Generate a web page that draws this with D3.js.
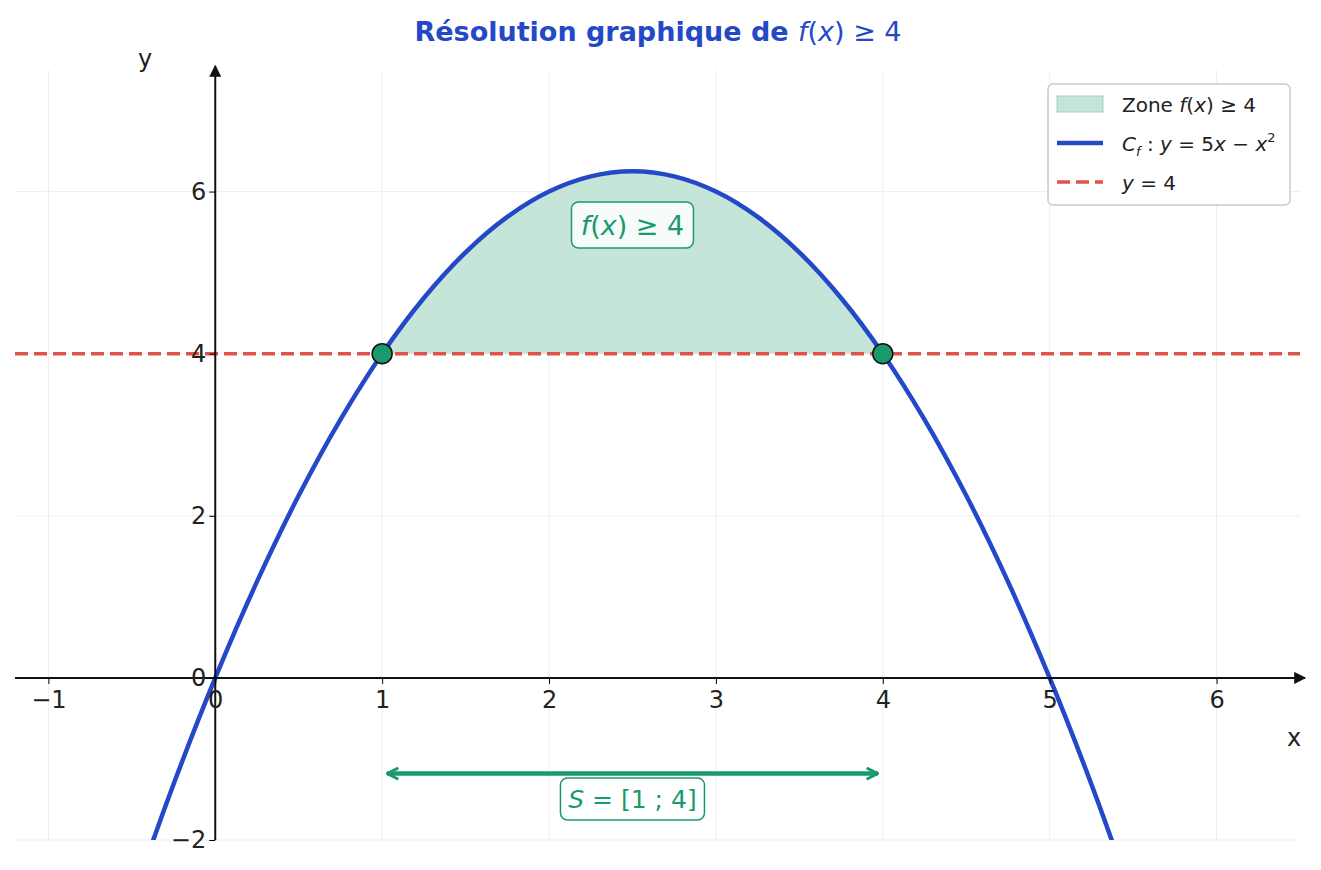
<!DOCTYPE html><html><head><meta charset="utf-8">
<script src="https://cdn.jsdelivr.net/npm/d3@7"></script>
<style>body{margin:0;background:#fff}text{font-family:"DejaVu Sans",sans-serif}</style></head><body>
<svg id="c" width="1321" height="870"></svg>
<script>
const curveX=[-0.5,-0.25,0,0.25,0.5,0.75,1,1.25,1.5,1.75,2,2.25,2.5,2.75,3,3.25,3.5,3.75,4,4.25,4.5,4.75,5,5.25,5.5];
const curveY=[-2.75,-1.3125,0,1.1875,2.25,3.1875,4,4.6875,5.25,5.6875,6,6.1875,6.25,6.1875,6,5.6875,5.25,4.6875,4,3.1875,2.25,1.1875,0,-1.3125,-2.75];
const xTicks=[-1,0,1,2,3,4,5,6];
const yTicks=[-2,0,2,4,6];
const threshold=4;
const solution=[1,4];
const blue="#2349c9",red="#e0534a",green="#1a9a6c";
const svg=d3.select("#c");
const x=d3.scaleLinear([-1.2,6.5],[15,1300]);
const y=d3.scaleLinear([-2,7.5],[840,70]);
const defs=svg.append("defs");
defs.append("clipPath").attr("id","clip").append("rect").attr("x",15).attr("y",70).attr("width",1285).attr("height",770);
defs.append("marker").attr("id","ar").attr("viewBox","0 0 10 10").attr("refX",9).attr("refY",5).attr("markerWidth",12).attr("markerHeight",12).attr("markerUnits","userSpaceOnUse").attr("orient","auto")
 .append("path").attr("d","M0,0L10,5L0,10z").attr("fill","#111");
defs.append("marker").attr("id","ga").attr("viewBox","0 0 10 10").attr("refX",9).attr("refY",5).attr("markerWidth",14).attr("markerHeight",14).attr("markerUnits","userSpaceOnUse").attr("orient","auto-start-reverse")
 .append("path").attr("d","M1,1L9,5L1,9").attr("fill","none").attr("stroke",green).attr("stroke-width",2);
svg.append("g").selectAll("line").data(xTicks).join("line").attr("x1",d=>x(d)).attr("x2",d=>x(d)).attr("y1",70).attr("y2",840).attr("stroke","#eee");
svg.append("g").selectAll("line").data(yTicks).join("line").attr("x1",15).attr("x2",1300).attr("y1",d=>y(d)).attr("y2",d=>y(d)).attr("stroke","#eee");
const pts=curveX.map((v,i)=>[v,curveY[i]]);
const g=svg.append("g").attr("clip-path","url(#clip)");
const zone=pts.filter(p=>p[0]>=solution[0]&&p[0]<=solution[1]);
g.append("path").datum(zone).attr("fill","#c5e5d9").attr("d",d3.area().x(d=>x(d[0])).y0(y(threshold)).y1(d=>y(d[1])).curve(d3.curveCatmullRom));
g.append("line").attr("x1",15).attr("x2",1300).attr("y1",y(threshold)).attr("y2",y(threshold)).attr("stroke",red).attr("stroke-width",3.5).attr("stroke-dasharray","13,6");
g.append("path").datum(pts).attr("fill","none").attr("stroke",blue).attr("stroke-width",4.5).attr("d",d3.line().x(d=>x(d[0])).y(d=>y(d[1])).curve(d3.curveCatmullRom));
svg.append("line").attr("x1",15).attr("x2",1305).attr("y1",y(0)).attr("y2",y(0)).attr("stroke","#111").attr("stroke-width",2).attr("marker-end","url(#ar)");
svg.append("line").attr("x1",x(0)).attr("x2",x(0)).attr("y1",840).attr("y2",66).attr("stroke","#111").attr("stroke-width",2).attr("marker-end","url(#ar)");
const xa=svg.append("g").attr("transform",`translate(0,${y(0)})`).call(d3.axisBottom(x).tickValues(xTicks).tickSize(6).tickFormat(d=>d<0?"−"+(-d):d));
xa.select(".domain").remove();
xa.selectAll("text").attr("font-size",24).attr("fill","#222").attr("dy","0.9em");
const ya=svg.append("g").attr("transform",`translate(${x(0)},0)`).call(d3.axisLeft(y).tickValues(yTicks).tickSize(6).tickFormat(d=>d<0?"−"+(-d):d));
ya.select(".domain").remove();
ya.selectAll("text").attr("font-size",24).attr("fill","#222");
svg.append("text").attr("x",1294).attr("y",746).attr("font-size",24).attr("text-anchor","middle").attr("fill","#222").text("x");
svg.append("text").attr("x",145).attr("y",67).attr("font-size",24).attr("text-anchor","middle").attr("fill","#222").text("y");
svg.selectAll("circle.p").data(solution).join("circle").attr("cx",d=>x(d)).attr("cy",y(threshold)).attr("r",10).attr("fill",green).attr("stroke","#111").attr("stroke-width",1.5);
function mbox(cx,cy,w,h){svg.append("rect").attr("x",cx-w/2).attr("y",cy-h/2).attr("width",w).attr("height",h).attr("rx",7).attr("fill","#fff").attr("fill-opacity",0.85).attr("stroke",green).attr("stroke-width",1.5);}
mbox(x(2.5),225,122,46);
const t1=svg.append("text").attr("x",x(2.5)).attr("y",235).attr("text-anchor","middle").attr("font-size",27).attr("fill",green);
t1.append("tspan").attr("font-style","italic").text("f");t1.append("tspan").text("(");t1.append("tspan").attr("font-style","italic").text("x");t1.append("tspan").text(") ≥ 4");
svg.append("line").attr("x1",x(solution[0])+5).attr("x2",x(solution[1])-5).attr("y1",y(-1.18)).attr("y2",y(-1.18)).attr("stroke",green).attr("stroke-width",4.5).attr("marker-start","url(#ga)").attr("marker-end","url(#ga)");
mbox(x(2.5),799,144,42);
const t2=svg.append("text").attr("x",x(2.5)).attr("y",808).attr("text-anchor","middle").attr("font-size",25).attr("fill",green);
t2.append("tspan").attr("font-style","italic").text("S");t2.append("tspan").text(" = [1 ; 4]");
const t=svg.append("text").attr("x",658).attr("y",41).attr("text-anchor","middle").attr("font-size",27).attr("fill",blue);
t.append("tspan").attr("font-weight","bold").text("Résolution graphique de ");
t.append("tspan").attr("font-style","italic").text("f");t.append("tspan").text("(");t.append("tspan").attr("font-style","italic").text("x");t.append("tspan").text(") ≥ 4");
const L=svg.append("g").attr("transform","translate(1048,84)");
L.append("rect").attr("width",242).attr("height",121).attr("rx",5).attr("fill","#fff").attr("stroke","#ccc").attr("stroke-width",1.5);
L.append("rect").attr("x",9).attr("y",12).attr("width",46).attr("height",16).attr("fill","#c5e5d9").attr("stroke","#9fd3bf");
L.append("line").attr("x1",9).attr("x2",55).attr("y1",59).attr("y2",59).attr("stroke",blue).attr("stroke-width",4.5);
L.append("line").attr("x1",9).attr("x2",55).attr("y1",98).attr("y2",98).attr("stroke",red).attr("stroke-width",3.5).attr("stroke-dasharray","13,6");
const a=L.append("text").attr("x",74).attr("y",28).attr("font-size",20).attr("fill","#222");
a.append("tspan").text("Zone ");a.append("tspan").attr("font-style","italic").text("f");a.append("tspan").text("(");a.append("tspan").attr("font-style","italic").text("x");a.append("tspan").text(") ≥ 4");
const b=L.append("text").attr("x",74).attr("y",67).attr("font-size",20).attr("fill","#222");
b.append("tspan").attr("font-style","italic").text("C");b.append("tspan").attr("font-size",13).attr("font-style","italic").attr("dy",5).text("f");
b.append("tspan").attr("dy",-5).text(" : ");b.append("tspan").attr("font-style","italic").text("y");b.append("tspan").text(" = 5");b.append("tspan").attr("font-style","italic").text("x");b.append("tspan").text(" − ");b.append("tspan").attr("font-style","italic").text("x");b.append("tspan").attr("font-size",13).attr("dy",-9).text("2");
const c=L.append("text").attr("x",74).attr("y",106).attr("font-size",20).attr("fill","#222");
c.append("tspan").attr("font-style","italic").text("y");c.append("tspan").text(" = 4");
</script>
</body></html>
